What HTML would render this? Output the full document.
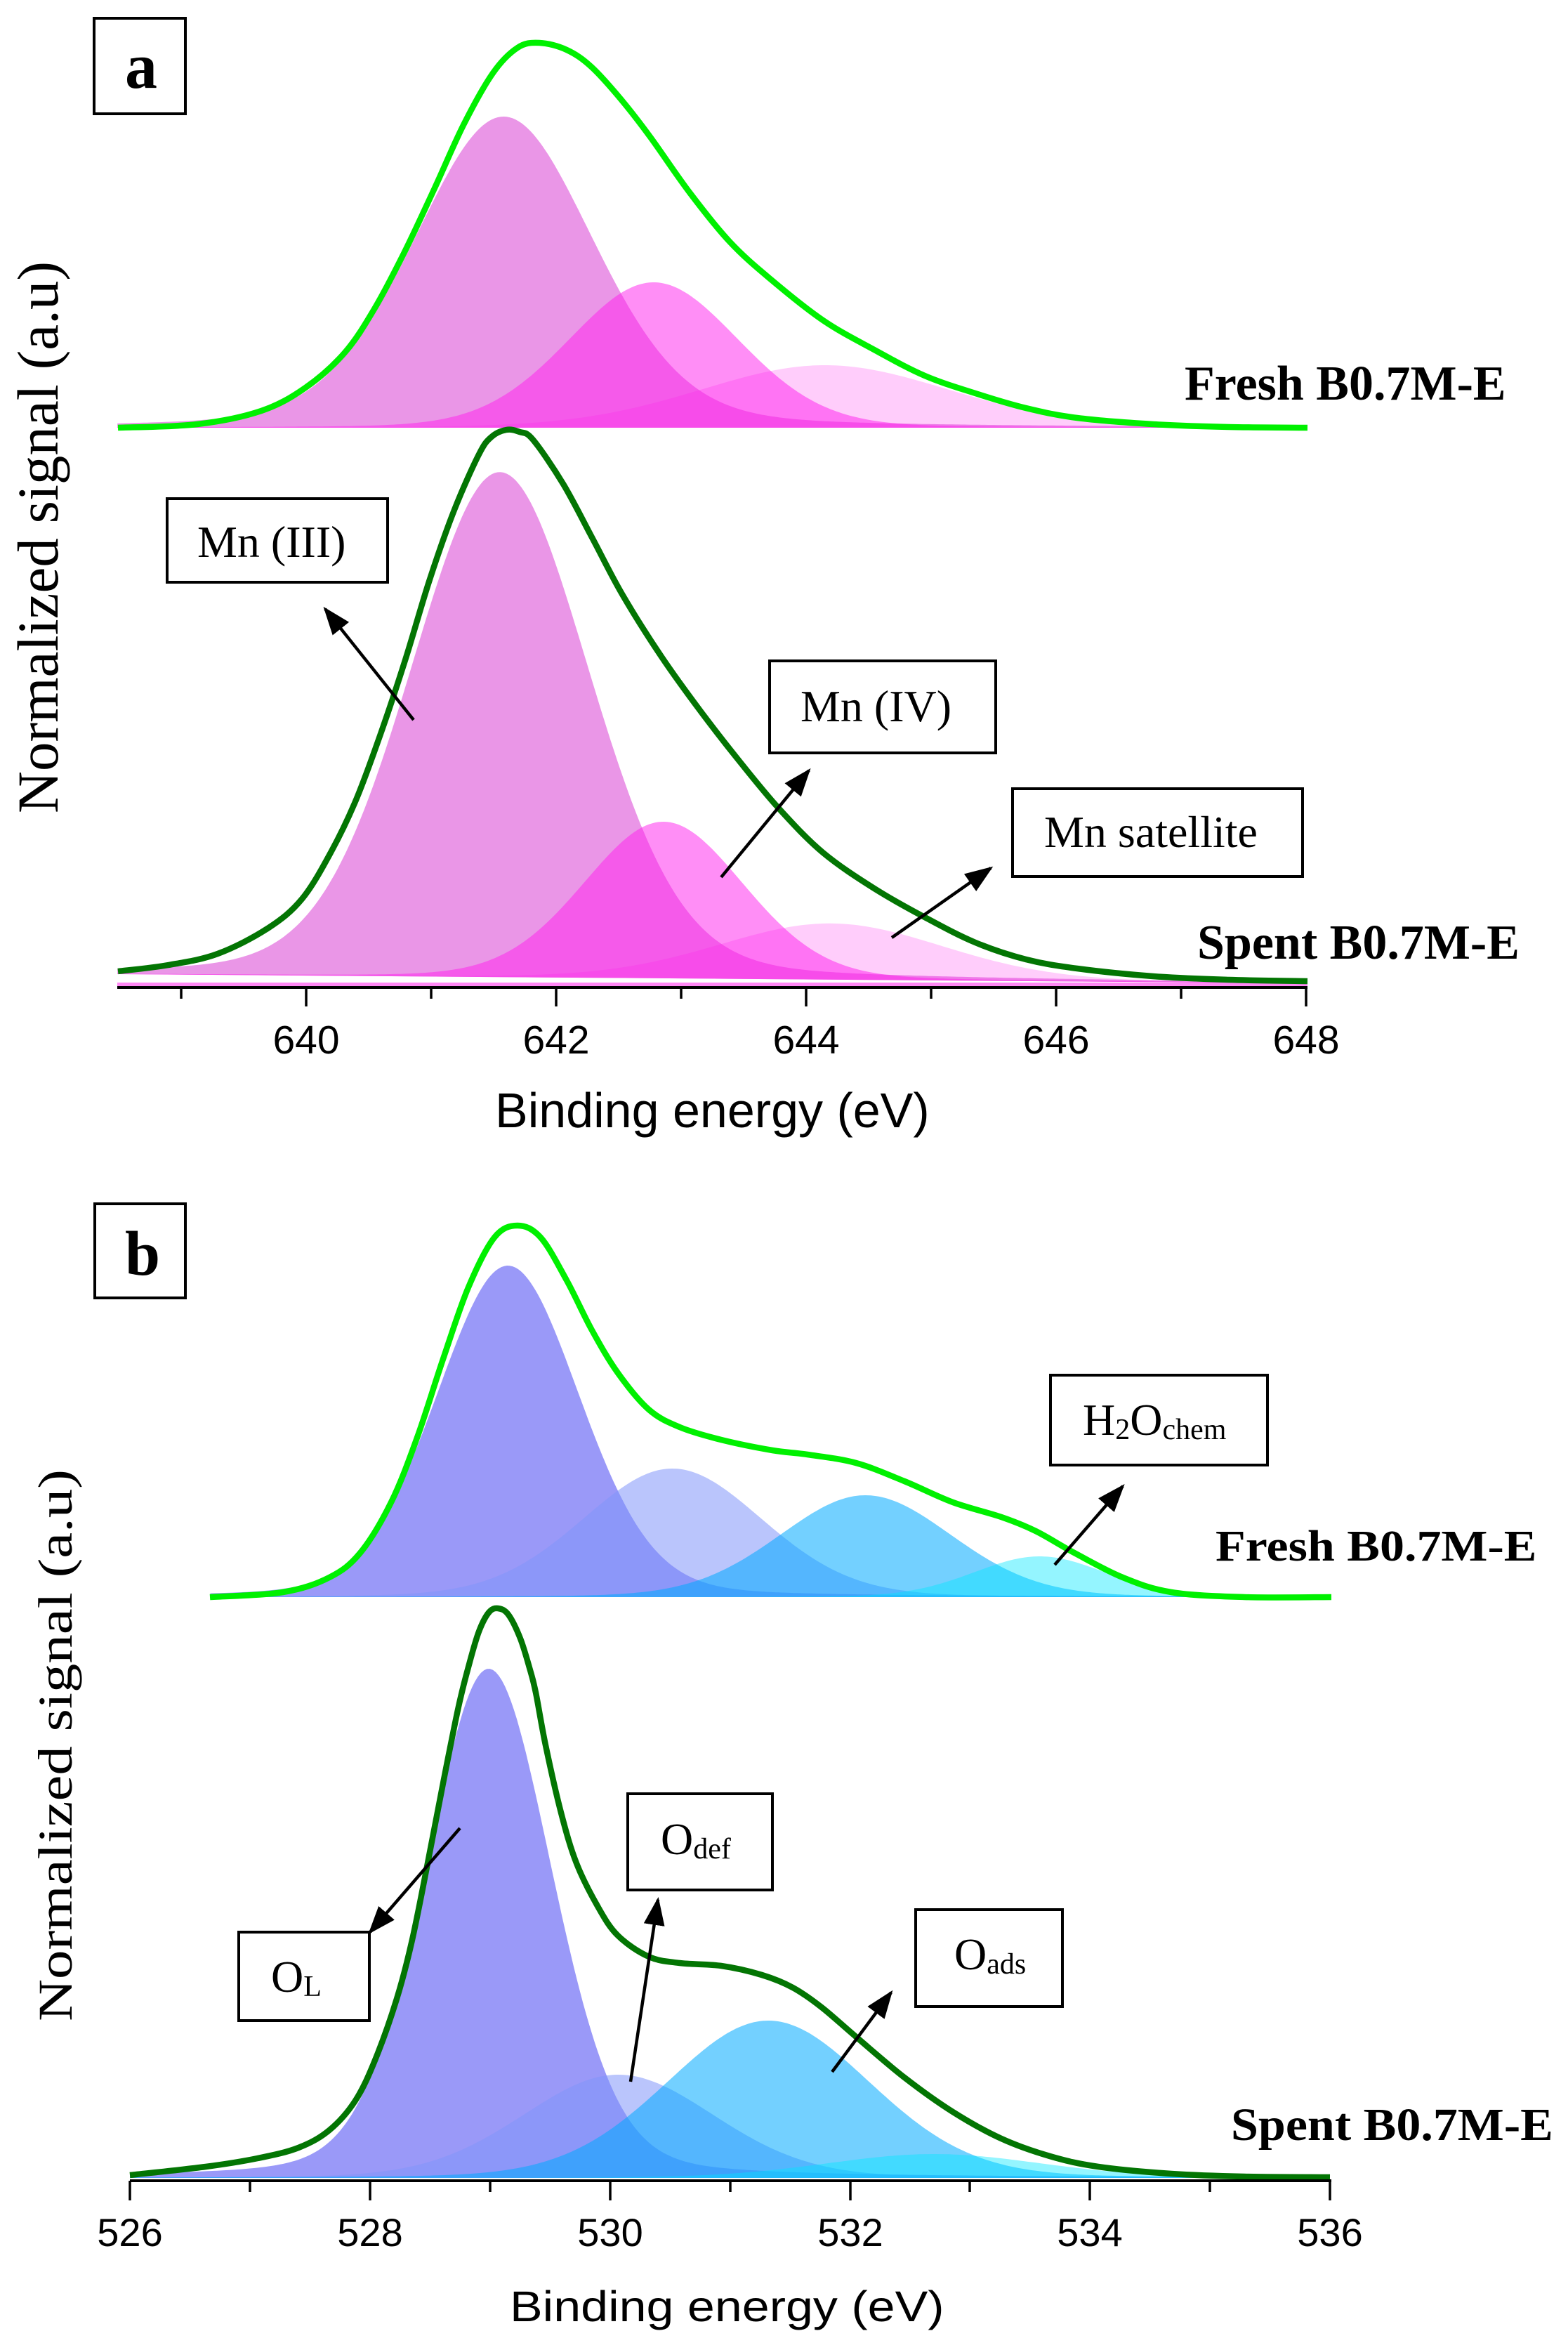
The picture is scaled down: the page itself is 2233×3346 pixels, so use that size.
<!DOCTYPE html>
<html>
<head>
<meta charset="utf-8">
<style>
html,body{margin:0;padding:0;background:#fff;}
svg{display:block;}
.tick{font-family:"Liberation Sans",Arial,sans-serif;font-size:57px;fill:#000;text-anchor:middle;}
.title{font-family:"Liberation Sans",Arial,sans-serif;font-size:70px;fill:#000;}
.serif{font-family:"Liberation Serif","Times New Roman",serif;fill:#000;}
.ann{font-size:64px;}
.sub{font-size:42px;}
.bold{font-weight:bold;}
</style>
</head>
<body>
<svg id="chart" xmlns="http://www.w3.org/2000/svg" width="2233" height="3346" viewBox="0 0 2233 3346">
<defs>
<marker id="ah" markerWidth="40" markerHeight="30" refX="36" refY="15" orient="auto" markerUnits="userSpaceOnUse">
<path d="M0,0 L40,15 L0,30 z" fill="#000"/>
</marker>
</defs>
<rect width="2233" height="3346" fill="#fff"/>

<!-- component fills generated by script -->
<g id="compA"></g>
<g id="compB"></g>

<!-- Panel a pink band above axis -->
<rect x="167" y="1399" width="1695" height="5" fill="#ff55f0" fill-opacity="0.7"/>

<!-- Envelopes panel a -->
<polyline class="env" fill="none" stroke="#037503" stroke-width="8.5" stroke-linejoin="round" stroke-linecap="butt"
points="168,1383 240,1374 310,1358 381,1322 430,1280 472,1212 507,1139 542,1045 577,940 612,825 647,726 682,647 700,622 721,612 740,615 759,626 802,689 844,767 886,846 942,935 998,1013 1054,1085 1110,1152 1172,1214 1245,1265 1317,1306 1389,1342 1461,1366 1534,1379 1642,1390 1750,1395 1862,1397"/>
<polyline class="env" fill="none" stroke="#00f000" stroke-width="8.5" stroke-linejoin="round" stroke-linecap="butt"
points="168,609 281,604 372,585 435,552 491,502 533,440 575,361 618,270 660,178 702,104 737,68 768,61 807,71 842,95 884,141 926,195 982,274 1039,344 1098,398 1172,456 1245,498 1317,535 1389,560 1461,581 1534,595 1642,604 1750,608 1862,609"/>

<!-- Envelopes panel b -->
<polyline class="env" fill="none" stroke="#037503" stroke-width="8.5" stroke-linejoin="round" stroke-linecap="butt"
points="185,3097 293,3085 367,3073 425,3058 469,3033 506,2991 535,2931 565,2846 587,2762 609,2653 631,2539 653,2430 668,2370 682,2323 696,2296 709,2290 724,2299 741,2333 755,2378 763,2410 777,2485 799,2581 821,2653 851,2714 880,2756 924,2786 968,2795 1027,2799 1085,2812 1129,2830 1170,2858 1219,2900 1288,2958 1357,3007 1426,3045 1495,3070 1564,3085 1668,3095 1772,3099 1894,3100"/>
<polyline class="env" fill="none" stroke="#00f000" stroke-width="8.5" stroke-linejoin="round" stroke-linecap="butt"
points="299,2274 403,2267 469,2246 513,2211 557,2139 594,2047 631,1935 667,1833 704,1762 737,1745 770,1762 807,1823 843,1894 880,1955 924,2007 968,2032 1027,2050 1100,2065 1150,2071 1219,2083 1288,2109 1357,2139 1426,2160 1475,2180 1530,2211 1599,2246 1668,2267 1772,2274 1896,2274"/>

<!-- Axis a -->
<g stroke="#000" stroke-width="3.5">
<line x1="167" y1="1406" x2="1862" y2="1406" stroke-width="4"/>
<line x1="258" y1="1406" x2="258" y2="1422"/>
<line x1="436" y1="1406" x2="436" y2="1433"/>
<line x1="614" y1="1406" x2="614" y2="1422"/>
<line x1="792" y1="1406" x2="792" y2="1433"/>
<line x1="970" y1="1406" x2="970" y2="1422"/>
<line x1="1148" y1="1406" x2="1148" y2="1433"/>
<line x1="1326" y1="1406" x2="1326" y2="1422"/>
<line x1="1504" y1="1406" x2="1504" y2="1433"/>
<line x1="1682" y1="1406" x2="1682" y2="1422"/>
<line x1="1860" y1="1406" x2="1860" y2="1433"/>
</g>
<text class="tick" x="436" y="1500">640</text>
<text class="tick" x="792" y="1500">642</text>
<text class="tick" x="1148" y="1500">644</text>
<text class="tick" x="1504" y="1500">646</text>
<text class="tick" x="1860" y="1500">648</text>
<text class="title" x="705" y="1605">Binding energy (eV)</text>

<!-- Axis b -->
<g stroke="#000" stroke-width="3.5">
<line x1="185" y1="3105" x2="1896" y2="3105" stroke-width="4"/>
<line x1="185" y1="3105" x2="185" y2="3133"/>
<line x1="356" y1="3105" x2="356" y2="3121"/>
<line x1="527" y1="3105" x2="527" y2="3133"/>
<line x1="698" y1="3105" x2="698" y2="3121"/>
<line x1="869" y1="3105" x2="869" y2="3133"/>
<line x1="1040" y1="3105" x2="1040" y2="3121"/>
<line x1="1211" y1="3105" x2="1211" y2="3133"/>
<line x1="1381" y1="3105" x2="1381" y2="3121"/>
<line x1="1552" y1="3105" x2="1552" y2="3133"/>
<line x1="1723" y1="3105" x2="1723" y2="3121"/>
<line x1="1894" y1="3105" x2="1894" y2="3133"/>
</g>
<text class="tick" x="185" y="3198" style="font-size:56px">526</text>
<text class="tick" x="527" y="3198" style="font-size:56px">528</text>
<text class="tick" x="869" y="3198" style="font-size:56px">530</text>
<text class="tick" x="1211" y="3198" style="font-size:56px">532</text>
<text class="tick" x="1552" y="3198" style="font-size:56px">534</text>
<text class="tick" x="1894" y="3198" style="font-size:56px">536</text>
<text class="title" transform="translate(726,3305) scale(1,0.88)" x="0" y="0">Binding energy (eV)</text>

<!-- Y axis labels -->
<text class="serif" transform="translate(82,765) rotate(-90)" x="0" y="0" text-anchor="middle" style="font-size:83px">Normalized signal (a.u)</text>
<text class="serif" transform="translate(102,2485) rotate(-90) scale(1,0.83)" x="0" y="0" text-anchor="middle" style="font-size:83px">Normalized signal (a.u)</text>

<!-- Panel labels -->
<rect x="134" y="26" width="130" height="136" fill="#fff" stroke="#000" stroke-width="4"/>
<text class="serif bold" x="201" y="125" text-anchor="middle" style="font-size:92px">a</text>
<rect x="135" y="1714" width="129" height="134" fill="#fff" stroke="#000" stroke-width="4"/>
<text class="serif bold" x="203" y="1815" text-anchor="middle" style="font-size:90px">b</text>

<!-- Sample labels -->
<text class="serif bold" x="1687" y="569" style="font-size:70px">Fresh B0.7M-E</text>
<text class="serif bold" x="1705" y="1365" style="font-size:70px">Spent B0.7M-E</text>
<text class="serif bold" transform="translate(1731,2222) scale(1,0.89)" x="0" y="0" style="font-size:70px">Fresh B0.7M-E</text>
<text class="serif bold" transform="translate(1753,3047) scale(1,0.94)" x="0" y="0" style="font-size:70px">Spent B0.7M-E</text>

<!-- Annotation boxes panel a -->
<rect x="238" y="710" width="314" height="119" fill="#fff" stroke="#000" stroke-width="4"/>
<text class="serif ann" x="281" y="793">Mn (III)</text>
<rect x="1096" y="941" width="322" height="131" fill="#fff" stroke="#000" stroke-width="4"/>
<text class="serif ann" x="1140" y="1027">Mn (IV)</text>
<rect x="1442" y="1123" width="413" height="125" fill="#fff" stroke="#000" stroke-width="4"/>
<text class="serif ann" x="1487" y="1206">Mn satellite</text>

<!-- Annotation boxes panel b -->
<rect x="1496" y="1958" width="309" height="128" fill="#fff" stroke="#000" stroke-width="4"/>
<text class="serif" x="1542" y="2043"><tspan class="ann">H</tspan><tspan class="sub" dy="6">2</tspan><tspan class="ann" dy="-6">O</tspan><tspan class="sub" dy="6">chem</tspan></text>
<rect x="340" y="2751" width="186" height="126" fill="#fff" stroke="#000" stroke-width="4"/>
<text class="serif" x="386" y="2836"><tspan class="ann">O</tspan><tspan class="sub" dy="6">L</tspan></text>
<rect x="894" y="2554" width="206" height="137" fill="#fff" stroke="#000" stroke-width="4"/>
<text class="serif" x="941" y="2640"><tspan class="ann">O</tspan><tspan class="sub" dy="6">def</tspan></text>
<rect x="1304" y="2719" width="209" height="138" fill="#fff" stroke="#000" stroke-width="4"/>
<text class="serif" x="1359" y="2804"><tspan class="ann">O</tspan><tspan class="sub" dy="6">ads</tspan></text>

<!-- Arrows -->
<g stroke="#000" stroke-width="4.5" marker-end="url(#ah)">
<line x1="589" y1="1025" x2="463" y2="867"/>
<line x1="1027" y1="1249" x2="1152" y2="1097"/>
<line x1="1270" y1="1335" x2="1411" y2="1236"/>
<line x1="1502" y1="2228" x2="1599" y2="2116"/>
<line x1="655" y1="2603" x2="527" y2="2751"/>
<line x1="898" y1="2964" x2="937" y2="2705"/>
<line x1="1185" y1="2950" x2="1269" y2="2837"/>
</g>
</svg>
<script>
(function(){
var NS='http://www.w3.org/2000/svg';
function pv(d,s,m){var g=Math.exp(-d*d/(2*s*s));var h=s*1.1774;var l=1/(1+(d/h)*(d/h));return (1-m)*g+m*l;}
function comp(gid,o){
  var g=document.getElementById(gid);
  var n=400,pts=[];
  for(var i=0;i<=n;i++){
    var E=o.Emin+(o.Emax-o.Emin)*i/n;
    var b=o.bL+(o.bR-o.bL)*i/n;
    var y=b-o.H*pv(E-o.E0,o.s,o.m);
    pts.push(o.X(E).toFixed(1)+','+y.toFixed(1));
  }
  var p=document.createElementNS(NS,'path');
  p.setAttribute('d','M'+o.X(o.Emin).toFixed(1)+','+o.bL+' L'+pts.join(' L')+' L'+o.X(o.Emax).toFixed(1)+','+o.bR+' Z');
  p.setAttribute('fill',o.fill);
  if(o.op!==undefined)p.setAttribute('fill-opacity',o.op);
  g.appendChild(p);
}
var XA=function(E){return 436+(E-640)*178;};
var XB=function(E){return 185+(E-526)*170.9;};
function mk(base,extra){var o={};for(var k in base)o[k]=base[k];for(var k2 in extra)o[k2]=extra[k2];return o;}
// Panel a fresh
var fa={X:XA,Emin:638.49,Emax:648,bL:609,bR:609};
comp('compA',mk(fa,{E0:641.58,H:443,s:0.72,m:0.2,fill:'#ea96e7'}));
comp('compA',mk(fa,{E0:642.78,H:207,s:0.68,m:0.1,fill:'#ff1ded',op:0.5}));
comp('compA',mk(fa,{E0:644.15,H:89,s:1.0,m:0.1,fill:'#ff1ded',op:0.22}));
// Panel a spent
var sa={X:XA,Emin:638.49,Emax:648,bL:1387,bR:1400};
comp('compA',mk(sa,{E0:641.55,H:719,s:0.72,m:0.15,fill:'#ea96e7'}));
comp('compA',mk(sa,{E0:642.86,H:223,s:0.64,m:0.1,fill:'#ff1ded',op:0.5}));
comp('compA',mk(sa,{E0:644.2,H:80,s:0.9,m:0.1,fill:'#ff1ded',op:0.22}));
// Panel b fresh
var fb={X:XB,Emin:526.67,Emax:536,bL:2274,bR:2274};
comp('compB',mk(fb,{E0:529.15,H:472,s:0.6,m:0.15,fill:'#9a99f8'}));
comp('compB',mk(fb,{E0:530.52,H:183,s:0.75,m:0.1,fill:'#8296fa',op:0.55}));
comp('compB',mk(fb,{E0:532.13,H:145,s:0.72,m:0.1,fill:'#00aaff',op:0.55}));
comp('compB',mk(fb,{E0:533.58,H:58,s:0.55,m:0.1,fill:'#00e6ff',op:0.42}));
// Panel b spent
var sb={X:XB,Emin:526,Emax:536,bL:3101,bR:3101};
comp('compB',mk(sb,{E0:528.99,H:725,s:0.53,m:0.2,fill:'#9a99f8'}));
comp('compB',mk(sb,{E0:530.07,H:147,s:0.8,m:0.1,fill:'#8296fa',op:0.55}));
comp('compB',mk(sb,{E0:531.32,H:224,s:0.85,m:0.1,fill:'#00aaff',op:0.55}));
comp('compB',mk(sb,{E0:532.7,H:34,s:0.9,m:0.1,fill:'#00e6ff',op:0.42}));

// Smooth envelope polylines with Catmull-Rom -> cubic bezier
var envs=document.querySelectorAll('polyline.env');
for(var e=0;e<envs.length;e++){
  var pl=envs[e];
  var raw=pl.getAttribute('points').trim().split(/\s+/);
  var P=raw.map(function(s){var a=s.split(',');return [parseFloat(a[0]),parseFloat(a[1])];});
  var d='M'+P[0][0]+','+P[0][1];
  for(var i=0;i<P.length-1;i++){
    var p0=P[i>0?i-1:i],p1=P[i],p2=P[i+1],p3=P[i+2<P.length?i+2:i+1];
    var c1x=p1[0]+(p2[0]-p0[0])/6,c1y=p1[1]+(p2[1]-p0[1])/6;
    var c2x=p2[0]-(p3[0]-p1[0])/6,c2y=p2[1]-(p3[1]-p1[1])/6;
    d+=' C'+c1x.toFixed(1)+','+c1y.toFixed(1)+' '+c2x.toFixed(1)+','+c2y.toFixed(1)+' '+p2[0]+','+p2[1];
  }
  var path=document.createElementNS(NS,'path');
  path.setAttribute('d',d);
  path.setAttribute('fill','none');
  path.setAttribute('stroke',pl.getAttribute('stroke'));
  path.setAttribute('stroke-width',pl.getAttribute('stroke-width'));
  path.setAttribute('stroke-linejoin','round');
  pl.parentNode.replaceChild(path,pl);
}
})();
</script>
</body>
</html>
